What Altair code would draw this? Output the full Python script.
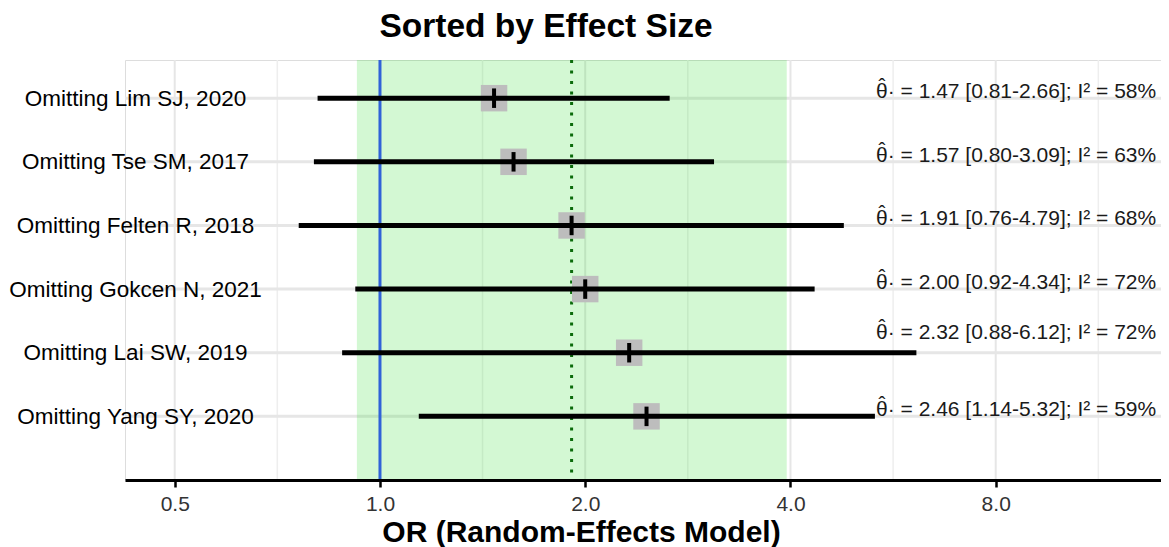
import json
import altair as alt
import pandas as pd

# ---------------- data ----------------
studies = ["Omitting Lim SJ, 2020", "Omitting Tse SM, 2017", "Omitting Felten R, 2018",
           "Omitting Gokcen N, 2021", "Omitting Lai SW, 2019", "Omitting Yang SY, 2020"]
estimates = [1.47, 1.57, 1.91, 2.00, 2.32, 2.46]
ci_lower = [0.81, 0.80, 0.76, 0.92, 0.88, 1.14]
ci_upper = [2.66, 3.09, 4.79, 4.34, 6.12, 5.32]
i2_values = [58, 63, 68, 72, 72, 59]

pooled_est = [1.91]
pooled_lower = [0.925]
pooled_upper = [3.95]
null_value = [1.0]

major_breaks = [0.5, 1.0, 2.0, 4.0, 8.0]
minor_breaks = [0.707, 1.414, 2.828, 5.657, 11.314]
x_domain = [0.4227, 13.98]
label_x = [5.34]

# ---------------- tables ----------------
rows = list(range(1, len(studies) + 1))
df = pd.DataFrame({
    "row": rows,
    "study": studies,
    "est": estimates,
    "lo": ci_lower,
    "hi": ci_upper,
    "i2": i2_values,
})
df["label"] = [
    "\u03b8\u00b7 = {:.2f} [{:.2f}-{:.2f}]; I\u00b2 = {}%".format(e, l, h, i)
    for e, l, h, i in zip(estimates, ci_lower, ci_upper, i2_values)
]
df["lx"] = label_x * len(rows)
pooled = pd.DataFrame({"est": pooled_est, "lo": pooled_lower, "hi": pooled_upper})
null_df = pd.DataFrame({"x": null_value})
major_df = pd.DataFrame({"x": major_breaks})
minor_df = pd.DataFrame({"x": minor_breaks})

FONT = "Liberation Sans"
W, H = 1036, 420

xscale = alt.Scale(type="log", base=2, domain=x_domain, nice=False)
yscale = alt.Scale(domain=[0.4, 7.0], reverse=True, nice=False, zero=False)

label_array = "[" + ",".join(json.dumps(s) for s in studies) + "]"
yaxis = alt.Axis(values=rows, labelExpr=label_array + "[datum.value - 1]", title=None,
                 domain=False, ticks=False, tickSize=0, grid=False, zindex=1,
                 labelAlign="center", labelBaseline="middle", labelPadding=-10,
                 labelFontSize=22.5, labelColor="#000000", labelFont=FONT, labelLimit=400)
xaxis = alt.Axis(values=major_breaks, format=".1f", grid=False, zindex=1,
                 domain=True, domainColor="#000000", domainWidth=3,
                 ticks=True, tickColor="#000000", tickWidth=2.5, tickSize=7,
                 labelFontSize=21, labelColor="#333333", labelFont=FONT, labelPadding=6,
                 title="OR (Random-Effects Model)", titleFontSize=30, titleFontWeight="bold",
                 titleFont=FONT, titleColor="#000000", titleX=456, titleY=61,
                 titleBaseline="alphabetic", titleAlign="center", titleAnchor="start")

X = lambda f: alt.X(f, type="quantitative", scale=xscale, axis=xaxis)
Y = lambda f: alt.Y(f, type="quantitative", scale=yscale, axis=yaxis)

grid_major = alt.Chart(major_df).mark_rule(color="#e6e6e6", strokeWidth=2).encode(x=X("x"))
grid_minor = alt.Chart(minor_df).mark_rule(color="#eeeeee", strokeWidth=1.5).encode(x=X("x"))
grid_h = alt.Chart(df).mark_rule(color="#e6e6e6", strokeWidth=3).encode(y=Y("row"))

band = alt.Chart(pooled).mark_rect(color="#22dd22", opacity=0.2).encode(
    x=X("lo"), x2="hi")
null_line = alt.Chart(null_df).mark_rule(color="#3062d8", strokeWidth=3).encode(x=X("x"))
pooled_line = alt.Chart(pooled).mark_rule(color="#0b6b0b", strokeWidth=3,
                                          strokeDash=[3, 7.5]).encode(x=X("est"))

boxes = alt.Chart(df).mark_square(size=700, color="#bdbdbd", opacity=1, filled=True).encode(
    x=X("est"), y=Y("row"))
ci = alt.Chart(df).mark_rule(color="#000000", strokeWidth=5).encode(
    x=X("lo"), x2="hi", y=Y("row"))
ticks = alt.Chart(df).mark_point(shape="M0,-1L0,1", size=380, stroke="#000000",
                                 strokeWidth=4, filled=False, opacity=1).encode(
    x=X("est"), y=Y("row"))

# labels whose interval runs underneath the text are lifted above the line
label_base = alt.Chart(df).transform_calculate(
    ly="datum.hi >= 5.8 ? datum.row - 0.22 : datum.row")
labels_text = label_base.mark_text(
    align="left", baseline="alphabetic", fontSize=21, font=FONT,
    color="#1a1a1a").encode(x=X("lx"), y=Y("ly"), text="label:N")
labels_hat = label_base.mark_text(
    align="center", baseline="alphabetic", fontSize=21, font=FONT, dx=6, dy=-5,
    color="#1a1a1a", text="\u02c6").encode(x=X("lx"), y=Y("ly"))

chart = alt.layer(grid_major, grid_minor, grid_h, band, null_line, pooled_line,
                  boxes, ci, ticks, labels_text, labels_hat).properties(
    width=W, height=H,
    title=alt.TitleParams("Sorted by Effect Size", fontSize=33.5, fontWeight="bold",
                          font=FONT, color="#000000", anchor="middle", dx=-97,
                          offset=23, dy=35, baseline="alphabetic"),
    autosize=alt.AutoSizeParams(type="none"),
    padding={"left": 117, "top": 52, "right": 0, "bottom": 67},
).configure_view(stroke=None).configure(font=FONT, background="#ffffff")

chart.save("out.html", embed_options={"renderer": "svg", "actions": False})
